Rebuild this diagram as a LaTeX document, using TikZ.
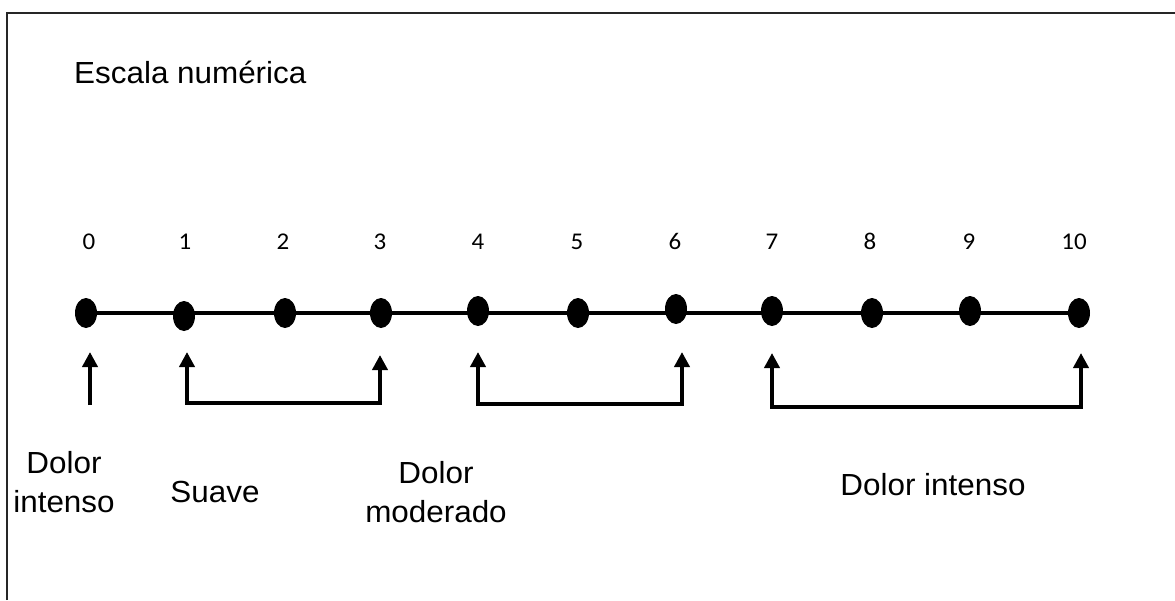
\documentclass[tikz,border=0pt]{standalone}
\usepackage{fontspec}
\setmainfont[FakeStretch=1.03]{Liberation Sans}
\newfontfamily\numfont[FakeStretch=1.04]{Carlito}
\usetikzlibrary{shapes.geometric,arrows.meta}
\tikzset{
  dotn/.style={ellipse, fill=black, minimum width=22pt, minimum height=30pt, inner sep=0pt},
  num/.style={font=\numfont\fontsize{24}{28}\selectfont, anchor=base, inner sep=0pt},
  lbl/.style={font=\fontsize{30.5}{39}\selectfont, inner sep=0pt},
  axis/.style={line width=4pt},
  arr/.style={line width=4.5pt, -{Triangle[width=15pt,length=15pt]}},
  brk/.style={line width=4.5pt, {Triangle[width=15pt,length=15pt]}-{Triangle[width=15pt,length=15pt]}},
}
\begin{document}
\begin{tikzpicture}[x=1pt,y=-1pt]
\useasboundingbox (0,0) rectangle (1175,600);
\draw[line width=1.5pt, black!85] (7,600) -- (7,13) -- (1175,13);

\node[lbl, anchor=base west] (title) at (74,83) {Escala numérica};

% dots
\node[dotn] (d0) at (86,313) {};
\node[dotn] (d1) at (184,316) {};
\node[dotn] (d2) at (285,313) {};
\node[dotn] (d3) at (381,313) {};
\node[dotn] (d4) at (478,311) {};
\node[dotn] (d5) at (578,313) {};
\node[dotn] (d6) at (676,309) {};
\node[dotn] (d7) at (772,311) {};
\node[dotn] (d8) at (872,313) {};
\node[dotn] (d9) at (970,311) {};
\node[dotn] (d10) at (1079,313) {};
\draw[axis] (d0.center) -- (d10.center);

% numbers
\node[num] (n0) at (89,249) {0};
\node[num] (n1) at (185,249) {1};
\node[num] (n2) at (283,249) {2};
\node[num] (n3) at (380,249) {3};
\node[num] (n4) at (478,249) {4};
\node[num] (n5) at (577,249) {5};
\node[num] (n6) at (675,249) {6};
\node[num] (n7) at (772,249) {7};
\node[num] (n8) at (870,249) {8};
\node[num] (n9) at (969,249) {9};
\node[num] (n10) at (1074,249) {10};

% arrows
\coordinate (a0t) at (90,352);
\coordinate (a0b) at (90,405);
\draw[arr] (a0b) -- (a0t);

\coordinate (b1l) at (187,352);
\coordinate (b1r) at (380,355);
\draw[brk] (b1l) -- (187,403) -- (380,403) -- (b1r);

\coordinate (b2l) at (478,352);
\coordinate (b2r) at (682,352);
\draw[brk] (b2l) -- (478,404) -- (682,404) -- (b2r);

\coordinate (b3l) at (772,353);
\coordinate (b3r) at (1081,353);
\draw[brk] (b3l) -- (772,407) -- (1081,407) -- (b3r);

% labels
\node[lbl, align=center] (l0) at (64,482) {Dolor\\intenso};
\node[lbl, anchor=base] (l1) at (215,502) {Suave};
\node[lbl, align=center] (l2) at (436,492) {Dolor\\moderado};
\node[lbl, anchor=base] (l3) at (933,495) {Dolor intenso};
\end{tikzpicture}
\end{document}
